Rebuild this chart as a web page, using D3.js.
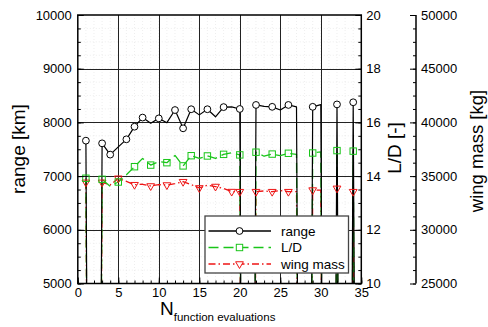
<!DOCTYPE html>
<html>
<head>
<meta charset="utf-8">
<script src="https://cdn.jsdelivr.net/npm/d3@7"></script>
<style>
  html, body { margin: 0; padding: 0; background: #fff; }
  svg { display: block; font-family: "Liberation Sans", Arial, Helvetica, sans-serif; }
</style>
</head>
<body>
<svg id="chart" width="488" height="327"></svg>
<script>
// ---------------- data ----------------
const evals = [1,2,3,4,5,6,7,8,9,10,11,12,13,14,15,16,17,18,19,20,21,22,23,24,25,26,27,28,29,30,31,32,33,34,35];
// failed evaluations (2,21,28,31,33,35) carry a large negative value -> lines drop off the plot
const rangeKm = [7660,-20000,7610,7400,7545,7685,7920,8090,7985,8075,7995,8230,7890,8245,8140,8245,8105,8285,8290,8250,-20000,8325,8300,8290,8230,8325,8290,-20000,8290,8330,-20000,8335,-20000,8375,-20000];
const liftDrag = [13.92,-40,13.88,13.62,13.78,14.05,14.35,14.66,14.41,14.54,14.50,14.77,14.38,14.76,14.66,14.75,14.66,14.81,14.87,14.79,-40,14.89,14.74,14.82,14.76,14.85,14.81,-40,14.86,14.90,-40,14.95,-40,14.93,-40];
const wingMass = [34420,-100000,34420,34170,34800,34500,34200,34240,34080,34200,34170,34300,34480,34200,33900,34150,34030,33850,33560,33550,-100000,33550,33620,33550,33650,33550,33550,-100000,33700,33700,-100000,33860,-100000,33550,-100000];
const rangeMarks = [1,3,4,6,7,8,10,12,13,14,16,18,20,22,24,26,29,32,34];
const ldMarks = [1,3,5,7,9,11,13,14,16,18,20,22,24,26,29,32,34];
const massMarks = [1,3,5,7,9,11,13,15,17,19,20,22,24,26,29,32,34];
const xTicks = [0,5,10,15,20,25,30,35];
const rangeTicks = [5000,6000,7000,8000,9000,10000];
const ldTicks = [10,12,14,16,18,20];
const massTicks = [25000,30000,35000,40000,45000,50000];
const legendNames = ["range","L/D","wing mass"];

// ---------------- layout ----------------
const L = 77.8, R = 361.3, T = 15, B = 283.5;
const svg = d3.select("#chart");
const x = d3.scaleLinear([0,35],[L,R]);
const yR = d3.scaleLinear([5000,10000],[B,T]);
const yL = d3.scaleLinear([10,20],[B,T]);
const yW = d3.scaleLinear([25000,50000],[B,T]);

const GREEN = "#19c519", RED = "#ee1414";

svg.append("defs").append("clipPath").attr("id","clip")
  .append("rect").attr("x",L).attr("y",T).attr("width",R-L).attr("height",B-T);

// minor grid (dotted, faint)
const g = svg.append("g");
g.selectAll(".mgx").data(d3.range(1,35)).join("line")
  .attr("x1",d=>x(d)).attr("x2",d=>x(d)).attr("y1",T).attr("y2",B)
  .attr("stroke","#e2e2e2").attr("stroke-width",0.6).attr("stroke-dasharray","1,2");
g.selectAll(".mgy").data(d3.range(5250,10000,250)).join("line")
  .attr("y1",d=>yR(d)).attr("y2",d=>yR(d)).attr("x1",L).attr("x2",R)
  .attr("stroke","#e2e2e2").attr("stroke-width",0.6).attr("stroke-dasharray","1,2");
// major grid
g.selectAll(".Mgx").data(xTicks.slice(1,-1)).join("line")
  .attr("x1",d=>Math.round(x(d))+0.5).attr("x2",d=>Math.round(x(d))+0.5).attr("y1",T).attr("y2",B)
  .attr("stroke","#222").attr("stroke-width",1);
g.selectAll(".Mgy").data(rangeTicks.slice(1,-1)).join("line")
  .attr("y1",d=>Math.round(yR(d))+0.5).attr("y2",d=>Math.round(yR(d))+0.5).attr("x1",L).attr("x2",R)
  .attr("stroke","#222").attr("stroke-width",1);

// ---------------- series ----------------
const plot = svg.append("g").attr("clip-path","url(#clip)");
function series(vals, ys, color, width, dash) {
  const line = d3.line().x((d,i)=>x(evals[i])).y(d=>ys(d));
  plot.append("path").datum(vals).attr("d",line).attr("fill","none")
    .attr("stroke",color).attr("stroke-width",width)
    .attr("stroke-dasharray",dash).attr("stroke-linejoin","round");
}
series(wingMass, yW, RED, 1.3, "7,3,1.5,3");
series(liftDrag, yL, GREEN, 1.3, "10,5");
series(rangeKm, yR, "#000", 1.2, null);

const tri = d3.symbol().type(d3.symbolTriangle).size(26);
plot.selectAll(".tm").data(massMarks).join("path")
  .attr("d",tri).attr("transform",d=>`translate(${x(d)},${yW(wingMass[evals.indexOf(d)])}) rotate(180)`)
  .attr("fill","none").attr("stroke",RED).attr("stroke-width",1);
plot.selectAll(".sm").data(ldMarks).join("rect")
  .attr("x",d=>x(d)-3.2).attr("y",d=>yL(liftDrag[evals.indexOf(d)])-3.2)
  .attr("width",6.4).attr("height",6.4)
  .attr("fill","none").attr("stroke",GREEN).attr("stroke-width",1);
plot.selectAll(".cm").data(rangeMarks).join("circle")
  .attr("cx",d=>x(d)).attr("cy",d=>yR(rangeKm[evals.indexOf(d)])).attr("r",3.4)
  .attr("fill","#fff").attr("stroke","#000").attr("stroke-width",1);

// ---------------- frame & axes ----------------
svg.append("rect").attr("x",L).attr("y",T).attr("width",R-L).attr("height",B-T)
  .attr("fill","none").attr("stroke","#000").attr("stroke-width",1.5);

function styleAxis(sel, fs) {
  sel.select(".domain").remove();
  sel.selectAll("line").attr("stroke","#000").attr("stroke-width",1);
  sel.selectAll("text").attr("font-size",fs).attr("fill","#000")
    .attr("font-family","Liberation Sans, Arial, sans-serif");
}
// left (range)
svg.append("g").attr("transform",`translate(${L},0)`)
  .call(d3.axisLeft(yR).tickValues(d3.range(5000,10001,250)).tickSize(-3).tickFormat(""))
  .call(s=>styleAxis(s,13));
svg.append("g").attr("transform",`translate(${L},0)`)
  .call(d3.axisLeft(yR).tickValues(rangeTicks).tickSize(-6).tickPadding(6).tickFormat(d3.format("d")))
  .call(s=>styleAxis(s,13));
// bottom (x)
svg.append("g").attr("transform",`translate(0,${B})`)
  .call(d3.axisBottom(x).tickValues(d3.range(0,36,1)).tickSize(-3).tickFormat(""))
  .call(s=>styleAxis(s,13));
svg.append("g").attr("transform",`translate(0,${B})`)
  .call(d3.axisBottom(x).tickValues(xTicks).tickSize(-6).tickPadding(4).tickFormat(d3.format("d")))
  .call(s=>styleAxis(s,13));
// right (L/D)
svg.append("g").attr("transform",`translate(${R},0)`)
  .call(d3.axisRight(yL).tickValues(d3.range(10,20.01,0.5)).tickSize(-3).tickFormat(""))
  .call(s=>styleAxis(s,13));
svg.append("g").attr("transform",`translate(${R},0)`)
  .call(d3.axisRight(yL).tickValues(ldTicks).tickSize(-6).tickPadding(5).tickFormat(d3.format("d")))
  .call(s=>styleAxis(s,13));
// far right (wing mass)
const WX = 416;
svg.append("line").attr("x1",WX).attr("x2",WX).attr("y1",T).attr("y2",B)
  .attr("stroke","#000").attr("stroke-width",1.5);
svg.append("g").attr("transform",`translate(${WX},0)`)
  .call(d3.axisRight(yW).tickValues(d3.range(25000,50001,1250)).tickSize(-3).tickFormat(""))
  .call(s=>styleAxis(s,13));
svg.append("g").attr("transform",`translate(${WX},0)`)
  .call(d3.axisRight(yW).tickValues(massTicks).tickSize(-6).tickPadding(5).tickFormat(d3.format("d")))
  .call(s=>styleAxis(s,13));

// axis titles
function vtitle(txt, cx, cy, fs) {
  svg.append("text").attr("transform",`translate(${cx},${cy}) rotate(-90)`)
    .attr("text-anchor","middle").attr("dy","0.35em")
    .attr("font-size",fs).attr("fill","#000").text(txt);
}
vtitle("range [km]", 18, 149, 19);
vtitle("L/D [-]", 394, 148, 19);
vtitle("wing mass [kg]", 476.5, 151, 18.5);

const xt = svg.append("text").attr("x",160).attr("y",315).attr("fill","#000");
xt.append("tspan").attr("font-size",19).text("N");
xt.append("tspan").attr("font-size",11.5).attr("dy",5.5).text("function evaluations");

// ---------------- legend ----------------
const lg = svg.append("g");
lg.append("rect").attr("x",205).attr("y",216).attr("width",143.5).attr("height",57)
  .attr("fill","#fff").attr("stroke","#444").attr("stroke-width",1.3);
const rows = [231, 247.5, 264];
const lcol = ["#000", GREEN, RED];
const ldash = [null, "10,5", "7,3,1.5,3"];
legendNames.forEach((name,i)=>{
  lg.append("line").attr("x1",208.5).attr("x2",271).attr("y1",rows[i]).attr("y2",rows[i])
    .attr("stroke",lcol[i]).attr("stroke-width",1.3).attr("stroke-dasharray",ldash[i]);
  if (i===0) lg.append("circle").attr("cx",239.5).attr("cy",rows[i]).attr("r",3.4)
    .attr("fill","#fff").attr("stroke","#000");
  if (i===1) lg.append("rect").attr("x",239.5-3.2).attr("y",rows[i]-3.2).attr("width",6.4).attr("height",6.4)
    .attr("fill","#fff").attr("stroke",GREEN);
  if (i===2) lg.append("path").attr("d",tri).attr("transform",`translate(239.5,${rows[i]}) rotate(180)`)
    .attr("fill","#fff").attr("stroke",RED);
  lg.append("text").attr("x",281).attr("y",rows[i]).attr("dy","0.35em")
    .attr("font-size",13.5).attr("fill","#000").text(name);
});
</script>
</body>
</html>
